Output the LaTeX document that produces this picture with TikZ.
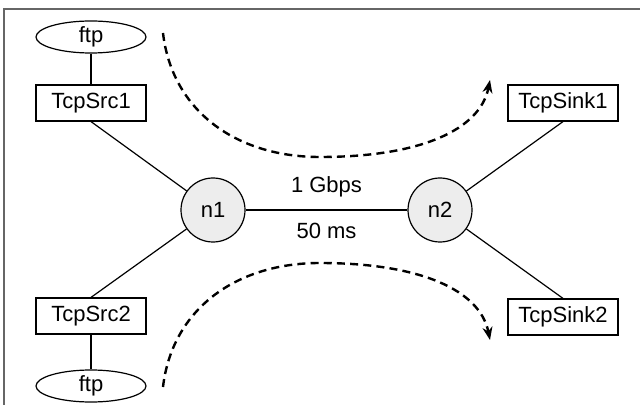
\documentclass[tikz,border=0pt]{standalone}
\usepackage{fontspec}
\setmainfont{Liberation Sans}
\usetikzlibrary{shapes.geometric,arrows.meta}
\begin{document}
\begin{tikzpicture}[x=0.5pt,y=-0.5pt,
  font=\fontsize{11pt}{12pt}\selectfont,
  agent/.style={draw, line width=0.6pt, rectangle, minimum width=55pt, minimum height=18pt, inner sep=0pt},
  app/.style={draw, line width=0.6pt, ellipse, minimum width=55pt, minimum height=16pt, inner sep=0pt},
  router/.style={draw, line width=0.6pt, circle, fill=black!7, minimum size=32pt, inner sep=0pt},
  wire/.style={line width=0.6pt},
  flow/.style={line width=1.2pt, dash pattern=on 4pt off 2.6pt, -{Stealth[length=6.5pt,width=5pt]}}]
\useasboundingbox (0,0) rectangle (640,405);
\draw[black!60, line width=0.7pt] (4,405) -- (4,9) -- (640,9);

\node[app] (ftp1) at (91,37) {ftp};
\node[agent] (src1) at (91,103) {TcpSrc1};
\node[agent] (src2) at (91,316) {TcpSrc2};
\node[app] (ftp2) at (91,386) {ftp};
\node[router] (n1) at (213,210) {n1};
\node[router] (n2) at (440,210) {n2};
\node[agent] (sink1) at (563,103) {TcpSink1};
\node[agent] (sink2) at (563,317) {TcpSink2};

\draw[wire] (ftp1) -- (src1);
\draw[wire] (ftp2) -- (src2);
\draw[wire] (src1.south) -- (n1);
\draw[wire] (src2.north) -- (n1);
\draw[wire] (sink1.south) -- (n2);
\draw[wire] (sink2.north) -- (n2);
\draw[wire] (n1) -- node[above=3pt] {1 Gbps} node[below=3pt] {50 ms} (n2);

\coordinate (a1) at (163,33);
\coordinate (a2) at (490,80);
\coordinate (b1) at (163,387);
\coordinate (b2) at (490,340);
\draw[flow] (a1) .. controls (172,110) and (235,157) .. (320,157)
                 .. controls (420,157) and (480,130) .. (a2);
\draw[flow] (b1) .. controls (172,310) and (235,263) .. (320,263)
                 .. controls (420,263) and (480,290) .. (b2);
\end{tikzpicture}
\end{document}
